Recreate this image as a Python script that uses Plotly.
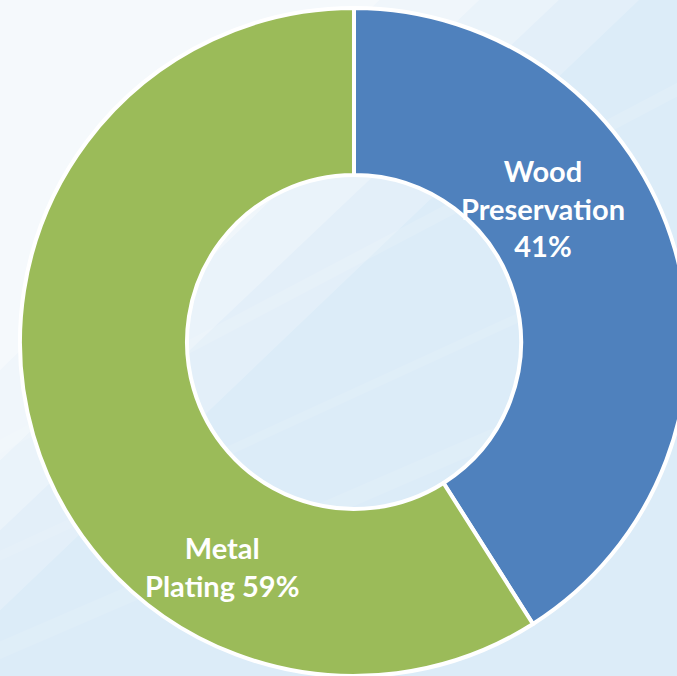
import plotly.graph_objects as go

# Share of usage by application
labels = ["Wood<br>Preserva\u200ction", "Metal<br>Plating"]
values = [41, 59]
colors = ["#4f81bd", "#9bbb59"]

W, H = 708, 676
TOP = 8


def px(x):
    return x / W


def py(y):
    return (H - y) / (H - TOP)


fig = go.Figure(
    go.Pie(
        labels=labels,
        values=values,
        hole=0.5,
        sort=False,
        direction="clockwise",
        rotation=0,
        textinfo="none",
        hoverinfo="label+percent",
        marker=dict(colors=colors, line=dict(color="white", width=4)),
        showlegend=False,
    )
)

# Soft light backdrop: whitish top-left fading into pale blue
shapes = []
for (ex, ey, op) in [(660, 620, 0.2), (580, 540, 0.25), (500, 470, 0.3), (400, 380, 0.35)]:
    shapes.append(dict(
        type="path", xref="paper", yref="paper", layer="below",
        path=f"M {px(-10)} {py(-20)} L {px(ex)} {py(-20)} L {px(-10)} {py(ey)} Z",
        fillcolor="white", opacity=op, line=dict(width=0),
    ))
# Faint diagonal streaks
for (x0, y0, x1, y1, w, op) in [(-20, 450, 720, 60, 14, 0.12), (-20, 560, 720, 220, 10, 0.1),
                                 (-20, 650, 720, 330, 18, 0.1)]:
    shapes.append(dict(
        type="path", xref="paper", yref="paper", layer="below",
        path=(f"M {px(x0)} {py(y0)} L {px(x1)} {py(y1)} "
              f"L {px(x1)} {py(y1 + w)} L {px(x0)} {py(y0 + w)} Z"),
        fillcolor="white", opacity=op, line=dict(width=0),
    ))

total = sum(values)
label_pos = [(543, 208), (222, 566)]
texts = [
    f"{labels[0]}<br>{round(values[0] / total * 100)}%",
    f"{labels[1]} {round(values[1] / total * 100)}%",
]
annotations = [
    dict(x=px(x), y=py(y), xref="paper", yref="paper", text=t, showarrow=False,
         xanchor="center", yanchor="middle", align="center",
         font=dict(family="Lato", size=29, color="white", weight="bold"))
    for (x, y), t in zip(label_pos, texts)
]

fig.update_layout(
    width=W, height=H,
    margin=dict(l=0, r=0, t=TOP, b=0, pad=0),
    paper_bgcolor="#dcecf8",
    plot_bgcolor="rgba(0,0,0,0)",
    shapes=shapes,
    annotations=annotations,
)

fig.write_html(
    "out.html",
    post_script="document.body.style.margin='0';document.body.style.overflow='hidden';"
                "document.documentElement.style.overflow='hidden';",
)
